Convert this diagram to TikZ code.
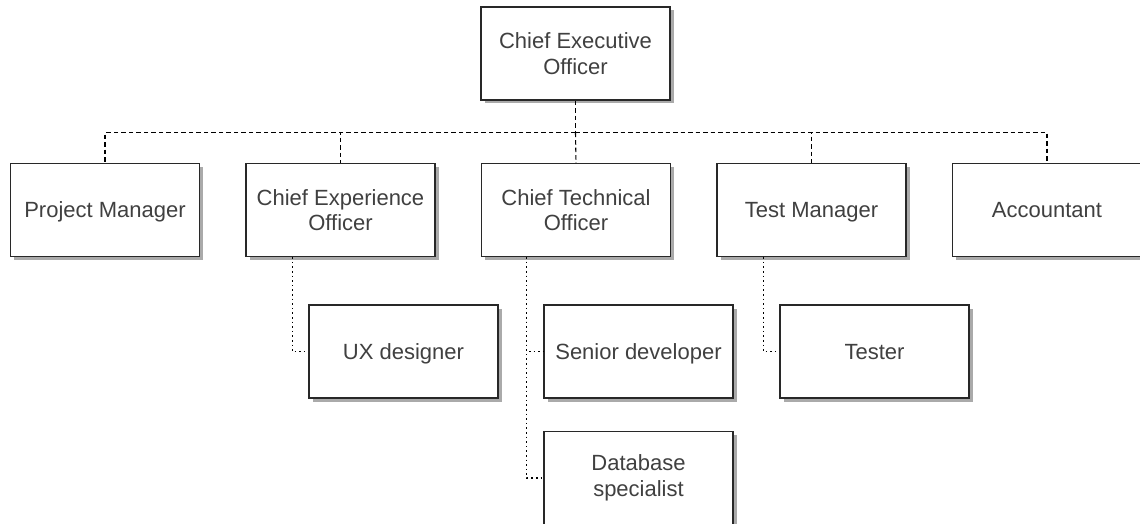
\documentclass[tikz,border=0pt]{standalone}
\usepackage{fontspec}
\setmainfont{Liberation Sans}
\usetikzlibrary{shadows}
\definecolor{boxline}{RGB}{40,40,40}
\definecolor{txtcol}{RGB}{64,64,64}
\definecolor{shadowcol}{RGB}{170,170,170}
\tikzset{
  orgbox/.style={draw=boxline, line width=1.3pt, fill=white,
    minimum width=189pt, minimum height=93pt, inner sep=0pt,
    align=center, text=txtcol,
    font=\fontsize{22}{25.5}\selectfont,
    drop shadow={shadow xshift=3.5pt, shadow yshift=-3.5pt, fill=shadowcol, opacity=1}},
  oneline/.style={text height=15.8pt, text depth=0pt},
  busline/.style={draw=black, line width=1.1pt, dash pattern=on 4.5pt off 3pt},
  subline/.style={draw=black, line width=1.2pt, dash pattern=on 1.6pt off 3pt}
}
\begin{document}
\begin{tikzpicture}[x=1pt, y=-1pt]
  \useasboundingbox (0,0) rectangle (1140,524);

  % top level
  \node[orgbox] (ceo) at (575.5,53.5) {Chief Executive\\Officer};

  % second level
  \node[orgbox, oneline] (pm)  at (105,210)   {Project Manager};
  \node[orgbox] (cxo) at (340.5,210) {Chief Experience\\Officer};
  \node[orgbox] (cto) at (576,210)   {Chief Technical\\Officer};
  \node[orgbox, oneline] (tm)  at (811.5,210) {Test Manager};
  \node[orgbox, oneline] (acc) at (1047,210)  {Accountant};

  % third level
  \node[orgbox, oneline] (ux)  at (403.5,351.5) {UX designer};
  \node[orgbox, oneline] (sd)  at (638.5,351.5) {Senior developer};
  \node[orgbox, oneline] (tst) at (874.5,351.5) {Tester};
  \node[orgbox] (db)  at (638.5,478)   {Database\\specialist};

  % CEO to direct reports
  \coordinate (bus) at ([yshift=-32pt]ceo.south);
  \draw[busline] (ceo.south) -- (bus);
  \draw[busline] (bus) -| (pm.north);
  \draw[busline] (bus) -| (cxo.north);
  \draw[busline] (bus) -- (cto.north);
  \draw[busline] (bus) -| (tm.north);
  \draw[busline] (bus) -| (acc.north);

  % managers to their staff
  \draw[subline] ([xshift=47pt]cxo.south west) |- (ux.west);
  \draw[subline] ([xshift=46pt]cto.south west) |- (sd.west);
  \draw[subline] ([xshift=46pt]cto.south west) |- (db.west);
  \draw[subline] ([xshift=47pt]tm.south west) |- (tst.west);
\end{tikzpicture}
\end{document}
